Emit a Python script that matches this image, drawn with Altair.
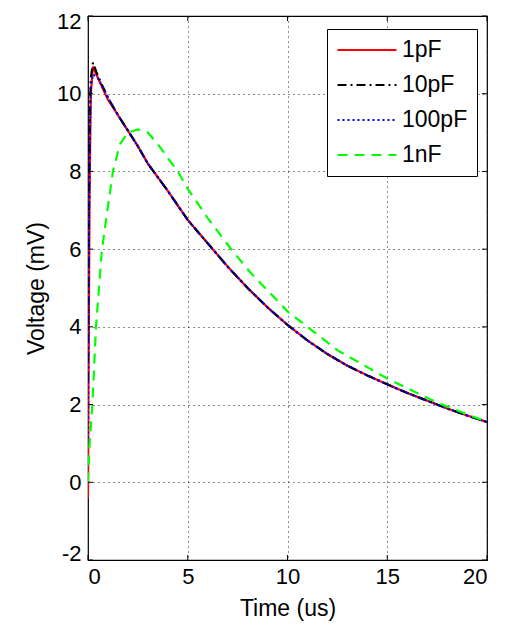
import altair as alt
import pandas as pd

# ---- data ----
series_names = ["1pF", "10pF", "100pF", "1nF"]
series_colors = ["#ff0000", "#000000", "#0000ff", "#00ff00"]
series_dash = [[1, 0], [9, 4, 2, 4], [2, 3], [10, 7]]

t_fast = [0, 0.03, 0.08, 0.14, 0.25, 0.5, 1, 1.5, 2, 2.5, 3, 3.5, 4, 5, 6, 7, 8, 9, 10,
          11, 12, 13, 14, 15, 16, 17, 18, 19, 20]
v_1pf = [-0.4, 3.0, 7.5, 10.0, 10.7, 10.4, 9.85, 9.45, 9.05, 8.65, 8.2, 7.85, 7.5, 6.75,
         6.15, 5.55, 5.0, 4.5, 4.05, 3.65, 3.3, 3.0, 2.75, 2.52, 2.3, 2.1, 1.9, 1.72, 1.55]
v_10pf = [2.6, 6.0, 9.0, 10.4, 10.8, 10.45, 9.9, 9.45, 9.05, 8.65, 8.2, 7.85, 7.5, 6.75,
          6.15, 5.55, 5.0, 4.5, 4.05, 3.65, 3.3, 3.0, 2.75, 2.52, 2.3, 2.1, 1.9, 1.72, 1.55]
v_100pf = [1.0, 5.0, 8.5, 10.2, 10.5, 10.4, 9.9, 9.45, 9.05, 8.65, 8.2, 7.85, 7.5, 6.75,
           6.15, 5.55, 5.0, 4.5, 4.05, 3.65, 3.3, 3.0, 2.75, 2.52, 2.3, 2.1, 1.9, 1.72, 1.55]

t_1nf = [0, 0.08, 0.22, 0.4, 0.7, 1.0, 1.25, 1.6, 2.0, 2.5, 3.0, 3.5, 4.5, 5, 6, 7.25,
         8.14, 10, 12.5, 15, 17.5, 20]
v_1nf = [0.0, 1.0, 2.0, 4.0, 6.0, 7.1, 8.0, 8.7, 9.0, 9.08, 9.0, 8.7, 8.0, 7.55, 6.8,
         5.95, 5.4, 4.4, 3.4, 2.67, 2.05, 1.55]

x_ticks = [0, 5, 10, 15, 20]
y_ticks = [-2, 0, 2, 4, 6, 8, 10, 12]

rows = []
for name, vals in zip(series_names[:3], [v_1pf, v_10pf, v_100pf]):
    for i, (t, v) in enumerate(zip(t_fast, vals)):
        rows.append({"t": t, "v": v, "series": name, "order": i})
for i, (t, v) in enumerate(zip(t_1nf, v_1nf)):
    rows.append({"t": t, "v": v, "series": "1nF", "order": i})
df = pd.DataFrame(rows)

W, H = 399, 544
FONT = "Liberation Sans"

xscale = alt.Scale(domain=[0, 20], nice=False, zero=False)
yscale = alt.Scale(domain=[-2, 12], nice=False, zero=False)

lines = alt.Chart(df).mark_line(strokeWidth=2.2, clip=True).encode(
    x=alt.X("t:Q", scale=xscale,
            axis=alt.Axis(title="Time (us)", values=x_ticks, grid=True, gridDash=[1, 4],
                          gridColor="#000000", gridOpacity=0.9, ticks=False,
                          labelPadding=6, titlePadding=10, domain=False,
                          labelExpr="datum.value + ''")),
    y=alt.Y("v:Q", scale=yscale,
            axis=alt.Axis(title="Voltage (mV)", values=y_ticks, grid=True, gridDash=[1, 4],
                          gridColor="#000000", gridOpacity=0.9, ticks=False,
                          labelPadding=7, titlePadding=8, domain=False,
                          labelFlush=True, labelFlushOffset=5,
                          labelExpr="datum.value + ''")),
    color=alt.Color("series:N", scale=alt.Scale(domain=series_names, range=series_colors),
                    legend=alt.Legend(title=None, orient="none", legendX=239, legendY=13,
                                      symbolType="stroke", symbolSize=3481,
                                      symbolStrokeWidth=2.2, labelFontSize=23,
                                      labelFont=FONT, labelFontWeight="normal",
                                      labelColor="#000000", rowPadding=11,
                                      clipHeight=24,
                                      strokeColor="#000000", fillColor="#ffffff",
                                      padding=9, labelOffset=4)),
    strokeDash=alt.StrokeDash("series:N",
                              scale=alt.Scale(domain=series_names, range=series_dash),
                              legend=None),
    detail="series:N",
    order="order:Q",
)

xt = pd.DataFrame({"t": x_ticks})
yt = pd.DataFrame({"v": y_ticks})
tick_style = dict(color="#000000", strokeWidth=1)
bottom_ticks = alt.Chart(xt).mark_rule(**tick_style).encode(
    x=alt.X("t:Q", scale=xscale), y=alt.value(H), y2=alt.value(H - 5))
top_ticks = alt.Chart(xt).mark_rule(**tick_style).encode(
    x=alt.X("t:Q", scale=xscale), y=alt.value(0), y2=alt.value(5))
left_ticks = alt.Chart(yt).mark_rule(**tick_style).encode(
    y=alt.Y("v:Q", scale=yscale), x=alt.value(0), x2=alt.value(5))
right_ticks = alt.Chart(yt).mark_rule(**tick_style).encode(
    y=alt.Y("v:Q", scale=yscale), x=alt.value(W), x2=alt.value(W - 5))

chart = alt.layer(lines, bottom_ticks, top_ticks, left_ticks, right_ticks).properties(
    width=W, height=H,
    autosize=alt.AutoSizeParams(type="none"),
    padding={"left": 80, "top": 8, "right": 20, "bottom": 66},
    background="#ffffff",
).configure_view(
    stroke="#000000", strokeWidth=1.2
).configure_axis(
    labelFont=FONT, titleFont=FONT, labelFontSize=22, titleFontSize=23,
    labelFontWeight="normal", titleFontWeight="normal",
    labelColor="#000000", titleColor="#000000",
)

chart.save("out.html", embed_options={"renderer": "svg", "actions": False})
